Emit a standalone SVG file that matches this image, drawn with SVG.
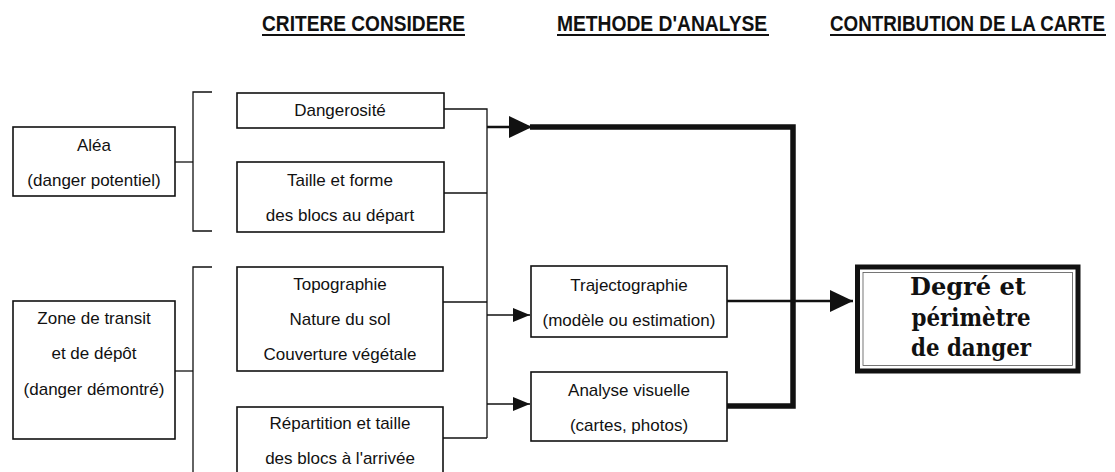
<svg xmlns="http://www.w3.org/2000/svg" width="1115" height="472" viewBox="0 0 1115 472">
<style>
.box{fill:#fff;stroke:#111;stroke-width:1.6}
.t{font-family:"Liberation Sans",Arial,sans-serif;font-size:17px;fill:#111;text-anchor:middle;dominant-baseline:central}
.h{font-family:"Liberation Sans",Arial,sans-serif;font-size:22px;font-weight:bold;fill:#111}
.thin{fill:none;stroke:#111;stroke-width:1.3}
.med{fill:none;stroke:#111;stroke-width:2.6}
.thick{fill:none;stroke:#111;stroke-width:5.5}
.big{font-family:"DejaVu Serif",serif;font-weight:bold;font-size:25px;fill:#111;text-anchor:middle}
</style>
<defs>
<marker id="aS" markerUnits="userSpaceOnUse" markerWidth="17" markerHeight="14" refX="17" refY="7" orient="auto"><path d="M0,0 L17,7 L0,14 Z" fill="#111"/></marker>
<marker id="aL" markerUnits="userSpaceOnUse" markerWidth="23" markerHeight="22" refX="23" refY="11" orient="auto"><path d="M0,0 L23,11 L0,22 Z" fill="#111"/></marker>
</defs>
<rect width="1115" height="472" fill="#fff"/>

<g id="headers">
<text class="h" transform="translate(262,31) scale(0.87,1)">CRITERE CONSIDERE</text>
<line x1="262" y1="35" x2="465" y2="35" stroke="#111" stroke-width="2"/>
<text class="h" transform="translate(557,31) scale(0.875,1)">METHODE D'ANALYSE</text>
<line x1="557" y1="35" x2="769" y2="35" stroke="#111" stroke-width="2"/>
<text class="h" transform="translate(830,31) scale(0.855,1)">CONTRIBUTION DE LA CARTE</text>
<line x1="830" y1="35" x2="1106" y2="35" stroke="#111" stroke-width="2"/>
</g>

<g id="connectors">
<path class="thin" d="M212,92 H193 V231 H212"/>
<path class="thin" d="M175,162 H193"/>
<path class="thin" d="M212,267 H193 V475"/>
<path class="thin" d="M175,371 H193"/>
<path class="thin" d="M444,109 H487 V438"/>
<path class="thin" d="M444,193 H487"/>
<path class="thin" d="M443,302 H487"/>
<path class="thin" d="M443,438 H487"/>
<path class="thin" d="M487,315 H530" marker-end="url(#aS)"/>
<path class="thin" d="M487,404 H530" marker-end="url(#aS)"/>
<path class="med" d="M487,127 H532" marker-end="url(#aL)"/>
<path class="thick" d="M530,127 H793 V406 H727"/>
<path class="med" d="M727,301 H853" marker-end="url(#aL)"/>
</g>

<g id="alea">
<rect class="box" x="13" y="127" width="162" height="69"/>
<text class="t" x="94" y="145">Aléa</text>
<text class="t" x="94" y="180">(danger potentiel)</text>
</g>
<g id="zone">
<rect class="box" x="13" y="301" width="162" height="138"/>
<text class="t" x="94" y="318">Zone de transit</text>
<text class="t" x="94" y="353">et de dépôt</text>
<text class="t" x="94" y="389">(danger démontré)</text>
</g>
<g id="dangerosite">
<rect class="box" x="237" y="93" width="207" height="35"/>
<text class="t" x="340" y="110">Dangerosité</text>
</g>
<g id="taille">
<rect class="box" x="237" y="162" width="207" height="70"/>
<text class="t" x="340" y="180">Taille et forme</text>
<text class="t" x="340" y="215">des blocs au départ</text>
</g>
<g id="topographie">
<rect class="box" x="237" y="267" width="206" height="104"/>
<text class="t" x="340" y="284">Topographie</text>
<text class="t" x="340" y="319">Nature du sol</text>
<text class="t" x="340" y="354">Couverture végétale</text>
</g>
<g id="repartition">
<rect class="box" x="237" y="407" width="206" height="72"/>
<text class="t" x="340" y="423">Répartition et taille</text>
<text class="t" x="340" y="458">des blocs à l'arrivée</text>
</g>
<g id="trajectographie">
<rect class="box" x="531" y="266" width="196" height="71"/>
<text class="t" x="629" y="285">Trajectographie</text>
<text class="t" x="629" y="320">(modèle ou estimation)</text>
</g>
<g id="analyse">
<rect class="box" x="531" y="372" width="196" height="69"/>
<text class="t" x="629" y="390">Analyse visuelle</text>
<text class="t" x="629" y="425">(cartes, photos)</text>
</g>
<g id="resultat">
<rect x="857.5" y="267" width="220.5" height="104" fill="#fff" stroke="#111" stroke-width="5"/>
<rect x="863" y="272.5" width="209.5" height="93" fill="none" stroke="#555" stroke-width="0.8"/>
<text class="big" x="968" y="295" textLength="116" lengthAdjust="spacingAndGlyphs">Degré et</text>
<text class="big" x="971" y="326" textLength="119" lengthAdjust="spacingAndGlyphs">périmètre</text>
<text class="big" x="971" y="356" textLength="120" lengthAdjust="spacingAndGlyphs">de danger</text>
</g>
</svg>
